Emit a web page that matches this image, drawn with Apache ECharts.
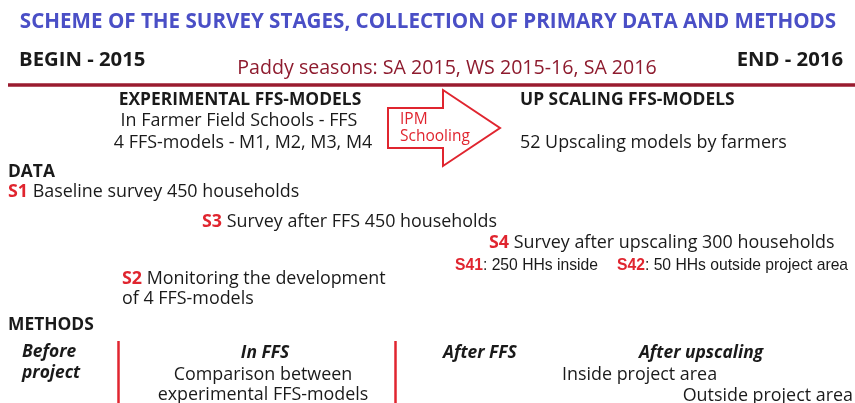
<!DOCTYPE html>
<html lang="en">
<head>
  <meta charset="UTF-8">
  <script src="https://cdn.jsdelivr.net/npm/echarts@6/dist/echarts.min.js"></script>
  <title>survey stages scheme</title>
</head>
<body style="margin:0">
<div id="scheme" style="width: 855px; height: 403px;"></div>
<script type="text/javascript">
  // texts of the scheme
  let titleText    = 'SCHEME OF THE SURVEY STAGES, COLLECTION OF PRIMARY DATA AND METHODS';
  let periodTexts  = ['BEGIN - 2015', 'END - 2016'];
  let seasonText   = 'Paddy seasons: SA 2015, WS 2015-16, SA 2016';
  let stageHeads   = ['EXPERIMENTAL FFS-MODELS', 'UP SCALING FFS-MODELS'];
  let stageLinesA  = ['In Farmer Field Schools - FFS', '4 FFS-models - M1, M2, M3, M4'];
  let stageLinesB  = ['52 Upscaling models by farmers'];
  let arrowLabel   = ['IPM', 'Schooling'];
  let sectionHeads = ['DATA', 'METHODS'];
  let surveyCodes  = ['S1', 'S3', 'S4', 'S2'];
  let surveyTexts  = [' Baseline survey 450 households', ' Survey after FFS 450 households',
                      ' Survey after upscaling 300 households', ' Monitoring the development\nof 4 FFS-models'];
  let subCodes     = ['S41', 'S42'];
  let subTexts     = [': 250 HHs inside', ': 50 HHs outside project area'];
  let methodHeads  = ['Before\nproject', 'In FFS', 'After FFS', 'After upscaling'];
  let methodLines  = ['Comparison between\nexperimental FFS-models', 'Inside project area', 'Outside project area'];

  const FONT = '"Open Sans", sans-serif';
  const ARIAL = '"Liberation Sans", Arial, sans-serif';
  const RED = '#e0252f';
  const DARK = '#1a1a1a';
  const BODY = 17.9;
  const HEAD = 17.4;

  function txt(x, y, text, size, opts) {
    opts = opts || {};
    return {
      type: 'text', x: x, y: y, silent: true,
      style: {
        text: text,
        font: (opts.style || '') + ' ' + (opts.weight || 'normal') + ' ' + size + 'px ' + (opts.family || FONT),
        fill: opts.fill || DARK,
        align: opts.align || 'left',
        verticalAlign: 'middle',
        lineHeight: opts.lineHeight,
        rich: opts.rich
      }
    };
  }

  function coded(x, y, code, text, size, family, lh) {
    let rich = {
      c: {fill: RED, fontWeight: 'bold', fontSize: size, fontFamily: family || FONT, lineHeight: lh},
      t: {fill: DARK, fontSize: size, fontFamily: family || FONT, lineHeight: lh}
    };
    let parts = text.split('\n');
    let s = '{c|' + code + '}{t|' + parts[0] + '}';
    for (let i = 1; i < parts.length; i++) s += '\n{t|' + parts[i] + '}';
    return txt(x, y, s, size, {rich: rich, family: family, lineHeight: lh});
  }

  function main() {
    let chart = echarts.init(document.getElementById('scheme'), null, {renderer: 'canvas'});
    let g = [];
    g.push(txt(428, 22, titleText, 20.6, {weight: 'bold', fill: '#4a4fc6', align: 'center'}));
    g.push(txt(19, 60, periodTexts[0], 20.3, {weight: 'bold'}));
    g.push(txt(843, 60, periodTexts[1], 20.3, {weight: 'bold', align: 'right'}));
    g.push(txt(447, 68, seasonText, 19.6, {fill: '#8e1b2e', align: 'center'}));
    g.push({type: 'line', silent: true, shape: {x1: 8, y1: 85, x2: 855, y2: 85},
            style: {stroke: '#9a1b2f', lineWidth: 3.5}});

    g.push(txt(240, 100, stageHeads[0], HEAD, {weight: 'bold', align: 'center'}));
    g.push(txt(239, 121, stageLinesA[0], BODY, {align: 'center'}));
    g.push(txt(243, 143, stageLinesA[1], BODY, {align: 'center'}));
    g.push(txt(520, 100, stageHeads[1], HEAD, {weight: 'bold'}));
    g.push(txt(520, 143, stageLinesB[0], BODY));

    // arrow
    g.push({type: 'polygon', silent: true,
      shape: {points: [[388, 108], [443, 108], [443, 90], [500, 128], [443, 166], [443, 148], [388, 148]]},
      style: {fill: '#fff', stroke: RED, lineWidth: 2}});
    g.push(txt(400, 120, arrowLabel[0], 15.5, {fill: RED}));
    g.push(txt(400, 137, arrowLabel[1], 15.5, {fill: RED}));

    g.push(txt(8, 172, sectionHeads[0], HEAD, {weight: 'bold'}));
    g.push(coded(8, 192, surveyCodes[0], surveyTexts[0], BODY));
    g.push(coded(202, 222, surveyCodes[1], surveyTexts[1], BODY));
    g.push(coded(489, 243, surveyCodes[2], surveyTexts[2], BODY));
    g.push(coded(122, 289, surveyCodes[3], surveyTexts[3], BODY, null, 20));
    g.push(coded(455, 266, subCodes[0], subTexts[0], 15.7, ARIAL));
    g.push(coded(617, 266, subCodes[1], subTexts[1], 15.7, ARIAL));

    g.push(txt(8, 325, sectionHeads[1], HEAD, {weight: 'bold'}));
    g.push({type: 'line', silent: true, shape: {x1: 118.5, y1: 341, x2: 118.5, y2: 403}, style: {stroke: RED, lineWidth: 2.5}});
    g.push({type: 'line', silent: true, shape: {x1: 395.5, y1: 341, x2: 395.5, y2: 403}, style: {stroke: RED, lineWidth: 2.5}});
    g.push(txt(22, 363, methodHeads[0], HEAD, {weight: 'bold', style: 'italic', lineHeight: 21}));
    g.push(txt(265, 353, methodHeads[1], HEAD, {weight: 'bold', style: 'italic', align: 'center'}));
    g.push(txt(263, 385, methodLines[0], BODY, {align: 'center', lineHeight: 20}));
    g.push(txt(443, 353, methodHeads[2], HEAD, {weight: 'bold', style: 'italic'}));
    g.push(txt(701, 353, methodHeads[3], HEAD, {weight: 'bold', style: 'italic', align: 'center'}));
    g.push(txt(562, 375, methodLines[1], BODY));
    g.push(txt(853, 396, methodLines[2], BODY, {align: 'right'}));

    chart.setOption({backgroundColor: '#fff', animation: false, graphic: {elements: g}});
  }

  main();
</script>
</body>
</html>
